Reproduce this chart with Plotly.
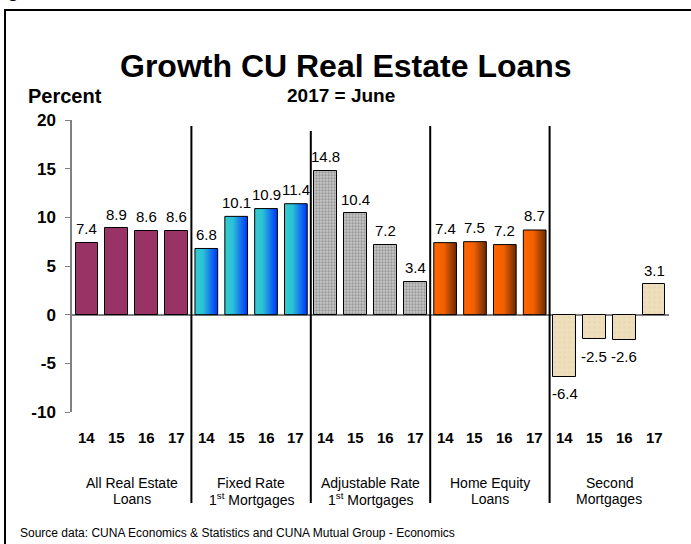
import plotly.graph_objects as go

# ---- data ----
years = ["14", "15", "16", "17"]
groups = ["All Real Estate|Loans", "Fixed Rate|1<sup>st</sup> Mortgages",
          "Adjustable Rate|1<sup>st</sup> Mortgages", "Home Equity|Loans",
          "Second|Mortgages"]
all_real_estate = [7.4, 8.9, 8.6, 8.6]
fixed_rate_first = [6.8, 10.1, 10.9, 11.4]
adjustable_rate_first = [14.8, 10.4, 7.2, 3.4]
home_equity = [7.4, 7.5, 7.2, 8.7]
second_mortgages = [-6.4, -2.5, -2.6, 3.1]

series = [all_real_estate, fixed_rate_first, adjustable_rate_first,
          home_equity, second_mortgages]

FONT = "Liberation Sans, Arial, sans-serif"
W, H = 691, 544
ML, MR, MT, MB = 72, 22, 120, 132
PW, PH = W - ML - MR, H - MT - MB
BAR_W = 0.76


def px_x(px):
    return (px - ML) / PW


def px_y(py):
    return (H - MB - py) / PH


fig = go.Figure()

gradients = {
    1: [[0, "#33cccc"], [0.35, "#2cc2d6"], [1, "#0033ff"]],
    3: [[0, "#ff6600"], [0.45, "#f26000"], [1, "#6a2a00"]],
}

for g, vals in enumerate(series):
    xs = [g * 4 + k for k in range(len(vals))]
    if g in gradients:
        for x, v in zip(xs, vals):
            x0, x1 = x - BAR_W / 2, x + BAR_W / 2
            fig.add_trace(go.Scatter(
                x=[x0, x0, x1, x1, x0], y=[0, v, v, 0, 0],
                mode="lines", fill="toself",
                fillgradient=dict(type="horizontal", colorscale=gradients[g]),
                line=dict(color="black", width=1),
                hoverinfo="skip", showlegend=False))
    else:
        if g == 0:
            marker = dict(color="#993366", line=dict(color="black", width=1))
        elif g == 2:
            marker = dict(color="#b8b8b8", line=dict(color="black", width=1),
                          pattern=dict(shape=".", fgcolor="#6a6a6a",
                                       bgcolor="#c6c6c6", size=3,
                                       solidity=0.45))
        else:
            marker = dict(color="#ecdcb6", line=dict(color="black", width=1),
                          pattern=dict(shape=".", fgcolor="#e5d3aa",
                                       bgcolor="#eedfbc", size=5,
                                       solidity=0.25))
        fig.add_trace(go.Bar(x=xs, y=vals, width=BAR_W, marker=marker,
                             hoverinfo="skip", showlegend=False))

    # value labels
    for x, v in zip(xs, vals):
        fig.add_annotation(x=x, y=v, xref="x", yref="y",
                           text=f"{v:.1f}", showarrow=False,
                           yanchor="middle", yshift=14 if v >= 0 else -17,
                           font=dict(family=FONT, size=15, color="black"))
    # year labels under the axis
    for x, yr in zip(xs, years):
        fig.add_annotation(x=x, y=px_y(437), xref="x", yref="paper",
                           text=f"<b>{yr}</b>", showarrow=False,
                           yanchor="middle",
                           font=dict(family=FONT, size=15, color="black"))
    # group name, two lines
    line1, line2 = groups[g].split("|")
    for txt, py in ((line1, 483), (line2, 499)):
        fig.add_annotation(x=g * 4 + 1.5, y=px_y(py), xref="x", yref="paper",
                           text=txt, showarrow=False, yanchor="middle",
                           font=dict(family=FONT, size=14, color="black"))

# vertical dividers between groups
for g, top in zip(range(1, len(series)), (126, 131, 126, 126)):
    fig.add_shape(type="line", xref="x", yref="paper",
                  x0=g * 4 - 0.5, x1=g * 4 - 0.5,
                  y0=px_y(top), y1=px_y(503),
                  line=dict(color="black", width=2))

# frame (top and left edges)
fig.add_shape(type="line", xref="paper", yref="paper",
              x0=px_x(4), x1=px_x(700), y0=px_y(10), y1=px_y(10),
              line=dict(color="black", width=2))
fig.add_shape(type="line", xref="paper", yref="paper",
              x0=px_x(5), x1=px_x(5), y0=px_y(10), y1=px_y(560),
              line=dict(color="black", width=2))

# headings
fig.add_annotation(x=px_x(346), y=px_y(66), xref="paper", yref="paper",
                   text="<b>Growth CU Real Estate Loans</b>", showarrow=False,
                   xanchor="center", yanchor="middle",
                   font=dict(family=FONT, size=32, color="black"))
fig.add_annotation(x=px_x(26), y=px_y(96), xref="paper", yref="paper",
                   text="<b>Percent</b>", showarrow=False,
                   xanchor="left", yanchor="middle",
                   font=dict(family=FONT, size=20, color="black"))
fig.add_annotation(x=px_x(341), y=px_y(96), xref="paper", yref="paper",
                   text="<b>2017 = June</b>", showarrow=False,
                   xanchor="center", yanchor="middle",
                   font=dict(family=FONT, size=19, color="black"))
fig.add_annotation(x=px_x(18), y=px_y(533), xref="paper", yref="paper",
                   text="Source data: CUNA Economics & Statistics and CUNA Mutual Group - Economics",
                   showarrow=False, xanchor="left", yanchor="middle",
                   font=dict(family=FONT, size=12, color="black"))
fig.add_annotation(x=px_x(13), y=px_y(-10), xref="paper", yref="paper",
                   text="<b>g</b>", showarrow=False,
                   xanchor="center", yanchor="middle",
                   font=dict(family=FONT, size=20, color="black"))

fig.update_layout(
    width=W, height=H,
    margin=dict(l=ML, r=MR, t=MT, b=MB, pad=0),
    paper_bgcolor="white", plot_bgcolor="white",
    bargap=0, barmode="overlay",
    font=dict(family=FONT, color="black"),
    xaxis=dict(range=[-0.5, 19.5], showticklabels=False, showgrid=False,
               zeroline=False, showline=False, ticks=""),
    yaxis=dict(range=[-10, 20], tickvals=[-10, -5, 0, 5, 10, 15, 20],
               ticktext=["<b>-10</b>", "<b>-5</b>", "<b>0</b>", "<b>5</b>",
                         "<b>10</b>", "<b>15</b>", "<b>20</b>"],
               showgrid=False, zeroline=True, zerolinecolor="#808080",
               zerolinewidth=2, showline=True, linecolor="#808080",
               linewidth=1.5, ticks="outside", ticklen=5, tickcolor="#808080",
               tickwidth=1, ticklabelstandoff=6,
               tickfont=dict(family=FONT, size=17, color="black")),
)

fig.write_html("out.html")
